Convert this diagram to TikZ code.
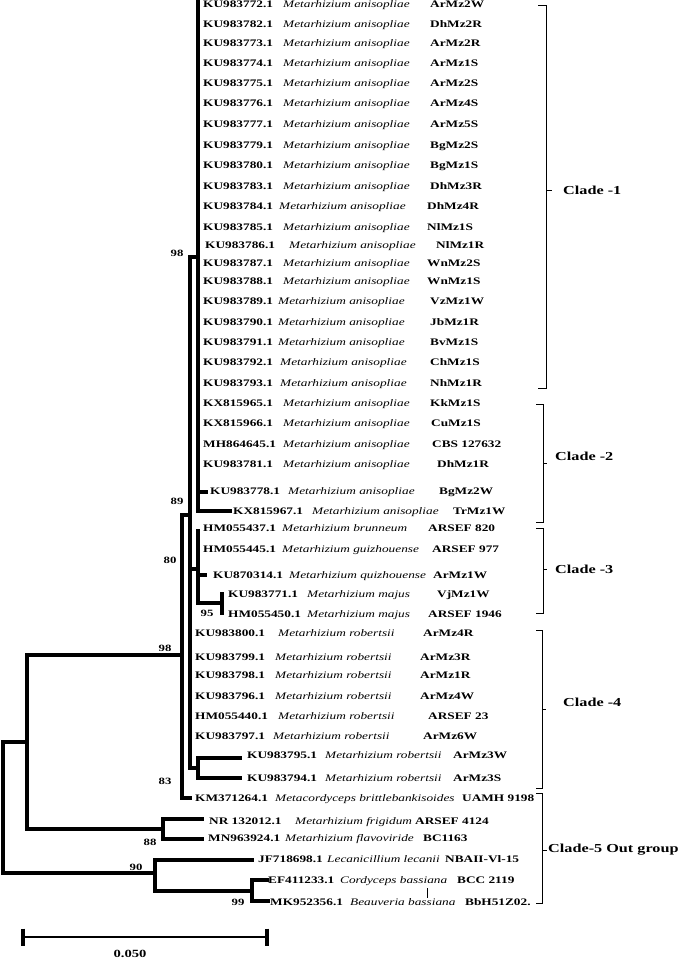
\documentclass[tikz,border=0pt]{standalone}
\usepackage{fontspec}
\setmainfont{Liberation Serif}[FakeStretch=1.33]
\newcommand{\manis}{Metarhizium anisopliae}
\newcommand{\mrob}{Metarhizium robertsii}
\newcommand{\leafrow}[8]{%
 \node[acc] (a#1) at (#3,{-#2-3.3}) {#4};
 \node[spc] (s#1) at (#5,{-#2-3.3}) {#6};
 \node[acc] (t#1) at (#7,{-#2-3.3}) {#8};}
\tikzset{
 br/.style={line width=3.3pt, line cap=rect},
 acc/.style={anchor=base west, inner sep=0pt, font=\fontsize{10}{12}\selectfont\bfseries},
 spc/.style={anchor=base west, inner sep=0pt, font=\fontsize{10}{12}\selectfont\itshape},
 boot/.style={inner sep=0pt, font=\fontsize{9.6}{11}\selectfont\bfseries},
 clab/.style={anchor=west, inner sep=0pt, font=\fontsize{12.2}{14}\selectfont\bfseries},
 brk/.style={line width=0.8pt},
}
\begin{document}
\begin{tikzpicture}[x=1pt,y=1pt]
\useasboundingbox (0,0) rectangle (685,-958);
% ---------- leaves ----------
\leafrow{1}{4}{203}{KU983772.1}{283}{\manis}{430}{ArMz2W}
\leafrow{2}{24}{203}{KU983782.1}{283}{\manis}{430}{DhMz2R}
\leafrow{3}{43}{203}{KU983773.1}{283}{\manis}{430}{ArMz2R}
\leafrow{4}{63}{203}{KU983774.1}{283}{\manis}{430}{ArMz1S}
\leafrow{5}{83}{203}{KU983775.1}{283}{\manis}{430}{ArMz2S}
\leafrow{6}{103}{203}{KU983776.1}{283}{\manis}{430}{ArMz4S}
\leafrow{7}{124}{203}{KU983777.1}{283}{\manis}{430}{ArMz5S}
\leafrow{8}{145}{203}{KU983779.1}{283}{\manis}{430}{BgMz2S}
\leafrow{9}{165}{203}{KU983780.1}{283}{\manis}{430}{BgMz1S}
\leafrow{10}{186}{203}{KU983783.1}{283}{\manis}{430}{DhMz3R}
\leafrow{11}{206}{203}{KU983784.1}{279}{\manis}{427}{DhMz4R}
\leafrow{12}{227}{203}{KU983785.1}{283}{\manis}{427}{NlMz1S}
\leafrow{13}{245}{205}{KU983786.1}{289}{\manis}{436}{NlMz1R}
\leafrow{14}{263}{203}{KU983787.1}{283}{\manis}{427}{WnMz2S}
\leafrow{15}{281}{203}{KU983788.1}{283}{\manis}{427}{WnMz1S}
\leafrow{16}{301}{203}{KU983789.1}{278}{\manis}{430}{VzMz1W}
\leafrow{17}{322}{203}{KU983790.1}{278}{\manis}{430}{JbMz1R}
\leafrow{18}{342}{203}{KU983791.1}{278}{\manis}{430}{BvMz1S}
\leafrow{19}{362}{203}{KU983792.1}{280}{\manis}{430}{ChMz1S}
\leafrow{20}{383}{203}{KU983793.1}{280}{\manis}{430}{NhMz1R}
\leafrow{21}{403}{203}{KX815965.1}{283}{\manis}{430}{KkMz1S}
\leafrow{22}{423}{203}{KX815966.1}{283}{\manis}{431}{CuMz1S}
\leafrow{23}{444}{203}{MH864645.1}{283}{\manis}{432}{CBS 127632}
\leafrow{24}{464}{203}{KU983781.1}{283}{\manis}{437}{DhMz1R}
\leafrow{25}{491}{210}{KU983778.1}{288}{\manis}{439}{BgMz2W}
\leafrow{26}{511}{233}{KX815967.1}{312}{\manis}{453}{TrMz1W}
\leafrow{27}{528}{203}{HM055437.1}{282}{Metarhizium brunneum}{428}{ARSEF 820}
\leafrow{28}{549}{203}{HM055445.1}{282}{Metarhizium guizhouense}{432}{ARSEF 977}
\leafrow{29}{575}{213}{KU870314.1}{289}{Metarhizium quizhouense}{433}{ArMz1W}
\leafrow{30}{594}{228}{KU983771.1}{307}{Metarhizium majus}{437}{VjMz1W}
\leafrow{31}{614}{228}{HM055450.1}{307}{Metarhizium majus}{428}{ARSEF 1946}
\leafrow{32}{633}{195}{KU983800.1}{278}{\mrob}{423}{ArMz4R}
\leafrow{33}{657}{195}{KU983799.1}{275}{\mrob}{420}{ArMz3R}
\leafrow{34}{675}{195}{KU983798.1}{275}{\mrob}{420}{ArMz1R}
\leafrow{35}{696}{195}{KU983796.1}{275}{\mrob}{420}{ArMz4W}
\leafrow{36}{716}{195}{HM055440.1}{278}{\mrob}{428}{ARSEF 23}
\leafrow{37}{736}{195}{KU983797.1}{273}{\mrob}{423}{ArMz6W}
\leafrow{38}{755}{247}{KU983795.1}{325}{\mrob}{453}{ArMz3W}
\leafrow{39}{778}{247}{KU983794.1}{325}{\mrob}{453}{ArMz3S}
\leafrow{40}{798}{195}{KM371264.1}{275}{Metacordyceps brittlebankisoides}{462}{UAMH 9198}
\leafrow{41}{821}{209}{NR 132012.1}{295}{Metarhizium frigidum}{415}{ARSEF 4124}
\leafrow{42}{838}{208}{MN963924.1}{285}{Metarhizium flavoviride}{423}{BC1163}
\leafrow{43}{859}{258}{JF718698.1}{327}{Lecanicillium lecanii}{445}{NBAII-Vl-15}
\leafrow{44}{880}{268}{EF411233.1}{340}{Cordyceps bassiana}{457}{BCC 2119}
\leafrow{45}{902}{270}{MK952356.1}{350}{Beauveria bassiana}{465}{BbH51Z02.}
% ---------- internal node coordinates ----------
\coordinate (R1) at (3,-742);   \coordinate (R2) at (3,-873);
\coordinate (A1) at (27,-742);  \coordinate (A2) at (27,-655);  \coordinate (A3) at (27,-829);
\coordinate (B1) at (182,-655); \coordinate (B2) at (182,-515); \coordinate (B3) at (182,-798);
\coordinate (C1) at (190,-515); \coordinate (C2) at (190,-257); \coordinate (C3) at (190,-768);
\coordinate (C4) at (190,-569);
\coordinate (D1) at (198,-257); \coordinate (D2) at (198,-1);   \coordinate (D3) at (198,-511);
\coordinate (D25) at (198,-492);
\coordinate (E1) at (198,-569); \coordinate (E2) at (198,-531); \coordinate (E3) at (198,-603);
\coordinate (E29) at (198,-575);
\coordinate (F1) at (222,-603); \coordinate (F2) at (222,-594); \coordinate (F3) at (222,-613);
\coordinate (G1) at (198,-768); \coordinate (G2) at (198,-758); \coordinate (G3) at (198,-778);
\coordinate (H1) at (163,-829); \coordinate (H2) at (163,-819); \coordinate (H3) at (163,-839);
\coordinate (J1) at (155,-873); \coordinate (J2) at (155,-860); \coordinate (J3) at (155,-891);
\coordinate (K1) at (252,-891); \coordinate (K2) at (252,-880); \coordinate (K3) at (252,-901);
% ---------- branches ----------
\draw[br] (R1) -- (R2);
\draw[br] (R1) -- (A1);
\draw[br] (R2) -- (J1);
\draw[br] (A2) -- (A3);
\draw[br] (A2) -- (B1);
\draw[br] (A3) -- (H1);
\draw[br] (B2) -- (B3);
\draw[br] (B2) -- (C1);
\draw[br, shorten >=5pt] (B3) -- (B3 -| a40.west);
\draw[br] (C2) -- (C3);
\draw[br] (C2) -- (D1);
\draw[br] (C4) -- (E1);
\draw[br] (C3) -- (G1);
\draw[br, line width=4pt] (D2) -- (D3);
\draw[br, shorten >=4pt] (D25) -- (D25 -| a25.west);
\draw[br, shorten >=3pt] (D3) -- (D3 -| a26.west);
\draw[br] (E2) -- (E3);
\draw[br, shorten >=8pt] (E29) -- (E29 -| a29.west);
\draw[br] (E3) -- (F1);
\draw[br] (F2) -- (F3);
\draw[br] (G2) -- (G3);
\draw[br, shorten >=7pt] (G2) -- (G2 -| a38.west);
\draw[br, shorten >=7pt] (G3) -- (G3 -| a39.west);
\draw[br] (H2) -- (H3);
\draw[br, shorten >=7pt] (H2) -- (H2 -| a41.west);
\draw[br, shorten >=6pt] (H3) -- (H3 -| a42.west);
\draw[br] (J2) -- (J3);
\draw[br, shorten >=6pt] (J2) -- (J2 -| a43.west);
\draw[br] (J3) -- (K1);
\draw[br] (K2) -- (K3);
\draw[br, shorten >=1pt] (K2) -- (K2 -| a44.west);
\draw[br, shorten >=2pt] (K3) -- (K3 -| a45.west);
% ---------- bootstrap values ----------
\node[boot] (b1) at (177,-253) {98};
\node[boot] (b2) at (177,-501) {89};
\node[boot] (b3) at (170,-560) {80};
\node[boot] (b4) at (207,-613) {95};
\node[boot] (b5) at (165,-648) {98};
\node[boot] (b6) at (165,-781) {83};
\node[boot] (b7) at (150,-842) {88};
\node[boot] (b8) at (136,-867) {90};
\node[boot] (b9) at (238,-902) {99};
% stray tick
\draw[brk] (427,-888) -- (427,-898);
% ---------- clade brackets ----------
\draw[brk] (538,-5) -- (546,-5) -- (546,-388) -- (538,-388);
\draw[brk] (546,-190) -- (552,-190);
\node[clab] (c1) at (563,-190) {Clade -1};
\draw[brk] (536,-404) -- (543,-404) -- (543,-522) -- (536,-522);
\draw[brk] (543,-463) -- (547,-463);
\node[clab] (c2) at (555,-456) {Clade -2};
\draw[brk] (536,-528) -- (543,-528) -- (543,-613) -- (536,-613);
\draw[brk] (543,-569) -- (547,-569);
\node[clab] (c3) at (555,-569) {Clade -3};
\draw[brk] (536,-630) -- (542,-630) -- (542,-788) -- (536,-788);
\draw[brk] (542,-709) -- (546,-709);
\node[clab] (c4) at (563,-702) {Clade -4};
\draw[brk] (536,-793) -- (542,-793) -- (542,-903) -- (536,-903);
\draw[brk] (542,-850) -- (547,-850);
\node[clab] (c5) at (548,-850) {Clade-5 Out group};
% ---------- scale bar ----------
\coordinate (S1) at (23,-937); \coordinate (S2) at (267,-937);
\draw[line width=2.8pt] (S1) -- (S2);
\draw[line width=3.5pt] ([yshift=8.5pt]S1) -- ([yshift=-8.5pt]S1);
\draw[line width=3.5pt] ([yshift=8.5pt]S2) -- ([yshift=-8.5pt]S2);
\node[anchor=base, inner sep=0pt, font=\fontsize{11}{13}\selectfont\bfseries] (sl) at (130,-957) {0.050};
\end{tikzpicture}
\end{document}
